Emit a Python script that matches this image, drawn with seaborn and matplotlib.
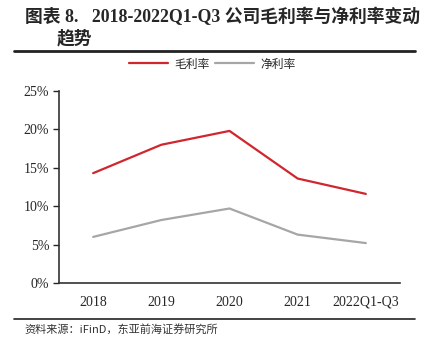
import matplotlib
matplotlib.use("Agg")
import matplotlib.pyplot as plt
import seaborn as sns
import pandas as pd
from matplotlib.lines import Line2D

categories = ["2018", "2019", "2020", "2021", "2022Q1-Q3"]
gross_margin = [14.3, 18.0, 19.8, 13.6, 11.6]
net_margin = [6.0, 8.2, 9.7, 6.3, 5.2]
series_names = ["毛利率", "净利率"]
yticks = [0, 5, 10, 15, 20, 25]

sns.set_theme(style="ticks")
plt.rcParams['font.family'] = ['Liberation Serif', 'Noto Sans CJK SC']

df = pd.DataFrame({
    "cat": categories * 2,
    "x": list(range(len(categories))) * 2,
    "val": [v / 100 for v in gross_margin] + [v / 100 for v in net_margin],
    "series": [series_names[0]] * len(categories) + [series_names[1]] * len(categories),
})

fig = plt.figure(figsize=(4.25, 3.42), dpi=100)
ax = fig.add_axes([0.139, 0.1725, 0.802, 0.5615])
colors = {series_names[0]: "#d0262e", series_names[1]: "#a6a6a6"}
sns.lineplot(data=df, x="x", y="val", hue="series", palette=colors, ax=ax,
             linewidth=1.6, legend=False)

ax.set_xlim(-0.5, len(categories) - 0.5)
ax.set_ylim(0, 0.25)
ax.set_xticks(range(len(categories)))
ax.set_xticklabels(categories, fontsize=10, family='Liberation Serif')
ax.set_yticks([t / 100 for t in yticks])
ax.set_yticklabels([f"{t}%" for t in yticks], fontsize=10, family='Liberation Serif')
ax.tick_params(axis='x', length=0, pad=9)
ax.tick_params(axis='y', length=4, width=1, direction='out', pad=3)
ax.set_xlabel("")
ax.set_ylabel("")
for s in ["top", "right"]:
    ax.spines[s].set_visible(False)
for s in ["left", "bottom"]:
    ax.spines[s].set_color("#333333")
    ax.spines[s].set_linewidth(1.2)

handles = [Line2D([0], [0], color=colors[n], lw=1.6) for n in series_names]
fig.legend(handles, series_names, loc="center", bbox_to_anchor=(0.5, 1 - 64 / 342),
           ncol=2, frameon=False, handlelength=3.3, columnspacing=0.5,
           handletextpad=0.5, prop={'family': 'Noto Sans CJK SC', 'size': 8.5})

# Title
fig.text(0.058, 1 - 17 / 342, "图表 8.   2018-2022Q1-Q3 公司毛利率与净利率变动",
         fontsize=12.8, fontweight='bold', va='center', ha='left',
         family=['Liberation Serif', 'Noto Sans CJK SC'])
fig.text(0.134, 1 - 38 / 342, "趋势", fontsize=12.8, fontweight='bold', va='center',
         ha='left', family=['Noto Sans CJK SC'])
fig.add_artist(Line2D([14 / 425, 415 / 425], [1 - 51 / 342] * 2, color='#222222', lw=2,
                      transform=fig.transFigure))
fig.add_artist(Line2D([14 / 425, 415 / 425], [1 - 319 / 342] * 2, color='#222222', lw=1.2,
                      transform=fig.transFigure))
fig.text(24 / 425, 1 - 329 / 342, "资料来源：iFinD，东亚前海证券研究所", fontsize=8,
         va='center', ha='left', family=['Noto Sans CJK SC', 'Liberation Serif'], color='#333333')

fig.savefig("out.png", dpi=100)
